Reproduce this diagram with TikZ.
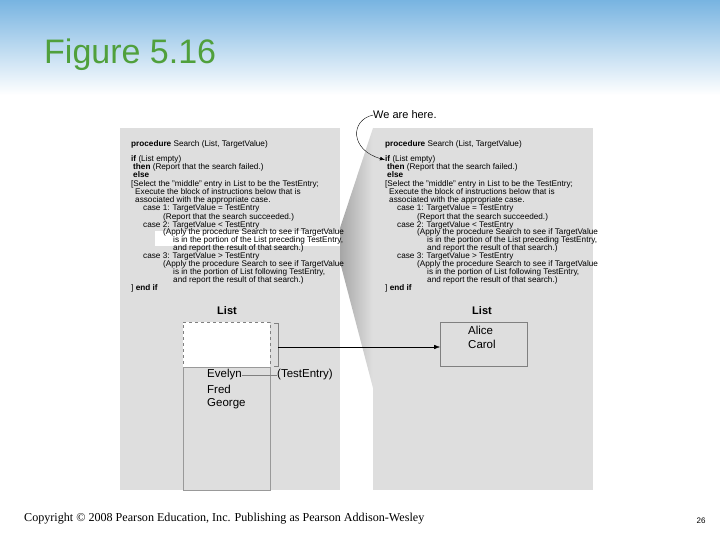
\documentclass[tikz,border=0pt]{standalone}
\usepackage{fontspec}
\setmainfont{Liberation Sans}
\newfontfamily\timesf{Liberation Serif}
\usetikzlibrary{arrows.meta}
\definecolor{panel}{RGB}{222,222,222}
\definecolor{hdr}{RGB}{120,180,225}
\definecolor{ttl}{RGB}{80,160,60}
\tikzset{code/.style={anchor=base west,inner sep=0pt,font=\fontsize{8.2}{8.5}\selectfont},
 lbl/.style={font=\fontsize{11.5}{12}\selectfont,inner sep=0pt,anchor=west},
 pnl/.style={fill=panel,draw=none}}
\newcommand\codelines[2]{%
 \foreach \yy/\xx/\tt [count=\i] in {147/0/{\textbf{procedure} Search (List, TargetValue)},
 162/0/{\textbf{if} (List empty)},
 170/2/{\textbf{then} (Report that the search failed.)},
 178/2/{\textbf{else}},
 187/0/{[Select the "middle" entry in List to be the TestEntry;},
 195/4/{Execute the block of instructions below that is},
 203/4/{associated with the appropriate case.},
 211/12/{case 1: TargetValue = TestEntry},
 219/32/{(Report that the search succeeded.)},
 227/12/{case 2: TargetValue < TestEntry},
 235/32/{(Apply the procedure Search to see if TargetValue},
 243/42/{is in the portion of the List preceding TestEntry,},
 250.5/42/{and report the result of that search.)},
 258.5/12/{case 3: TargetValue > TestEntry},
 266.5/32/{(Apply the procedure Search to see if TargetValue},
 274.5/42/{is in the portion of List following TestEntry,},
 282.5/42/{and report the result of that search.)},
 290/0/{] \textbf{end if}}}
 {\node[code] (#1\i) at (#2+\xx,\yy) {\tt};}}
\begin{document}
\begin{tikzpicture}[x=1pt,y=-1pt]
\useasboundingbox (0,0) rectangle (720,540);
\shade[top color=hdr,bottom color=white] (0,0) rectangle (720,95);
\node[anchor=base west,text=ttl,font=\fontsize{34}{36}\selectfont,inner sep=0pt] (title) at (44,64) {Figure 5.16};
% panels
\fill[pnl] (120,128) rectangle (340,490);
\fill[pnl] (373,128) rectangle (593,490);
\fill[white] (155,231) rectangle (340,246);
\shade[left color=gray!70,right color=gray!25] (340,228) -- (373,128) -- (373,388) -- (340,262) -- cycle;
\codelines{a}{131}
\codelines{b}{385}
% We are here
\node[anchor=base west,font=\fontsize{11}{12}\selectfont,inner sep=0pt] (here) at (373,119) {We are here.};
\draw[-{Latex[length=5pt]}] (here.west) .. controls (350,120) and (350,150) .. (b2.west);
% left list
\node[font=\bfseries\fontsize{11}{12}\selectfont,inner sep=0pt] (ll) at (227,311) {List};
\node[draw=gray,dashed,fill=white,minimum width=87pt,minimum height=45pt,inner sep=0pt,anchor=north west] (top) at (183,322) {};
\node[draw=gray!80,minimum width=87pt,minimum height=123pt,inner sep=0pt,anchor=north west] (low) at (183,367) {};
\node[lbl] (ev) at (207,375) {Evelyn};
\node[lbl] (fr) at (207,389) {Fred};
\node[lbl] (ge) at (207,404) {George};
\node[lbl] (te) at (277,375) {(TestEntry)};
\draw[gray] (ev.east) -- (te.west);
\coordinate (b1) at (274,323); \coordinate (b2c) at (274,366);
\draw[gray] (b1) -- ++(4,0) coordinate (bt) -- ++(0,43) coordinate (bb) -- (b2c);
\coordinate (bm) at (278,347);
% right list
\node[font=\bfseries\fontsize{11}{12}\selectfont,inner sep=0pt] (rl) at (482,311) {List};
\node[draw=gray,minimum width=87pt,minimum height=44pt,inner sep=0pt,anchor=north west] (rb) at (440,322) {};
\node[lbl] (al) at (468,330) {Alice};
\node[lbl] (ca) at (468,344) {Carol};
\draw[-{Latex[length=6pt]}] (bm) -- (rb.west |- bm);
% footer
\node[anchor=base west,inner sep=0pt,font=\timesf\fontsize{12.1}{13}\selectfont] (copy) at (24,521) {Copyright © 2008 Pearson Education, Inc. Publishing as Pearson Addison-Wesley};
\node[inner sep=0pt,font=\fontsize{8}{9}\selectfont] (pg) at (701,521) {26};
\end{tikzpicture}
\end{document}
